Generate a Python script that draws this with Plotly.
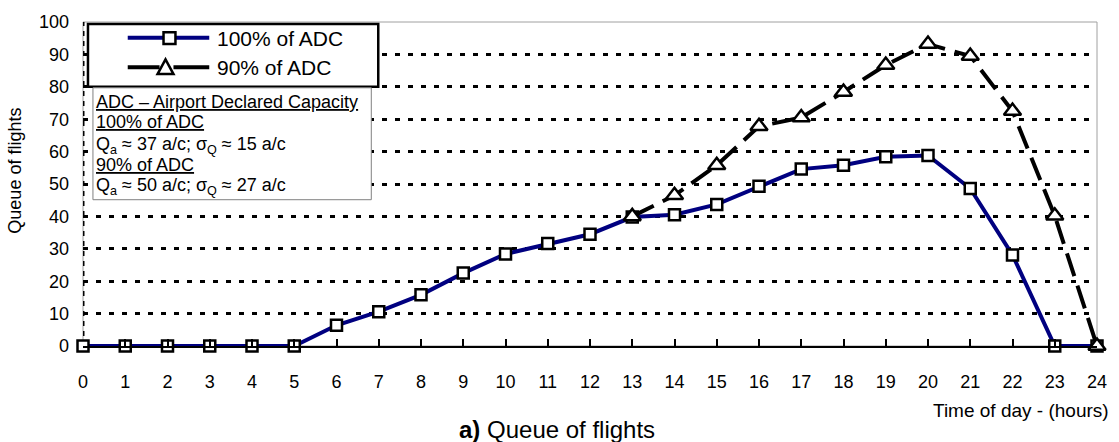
import plotly.graph_objects as go

# Hourly queue length (number of flights waiting) for two capacity scenarios
hours = list(range(25))
queue_100 = [0, 0, 0, 0, 0, 0, 6.4, 10.6, 15.8, 22.5, 28.4, 31.6, 34.5,
             39.8, 40.5, 43.7, 49.3, 54.6, 55.8, 58.4, 58.8, 48.6, 28.1, 0, 0]
hours_90 = list(range(13, 25))
queue_90 = [40.0, 46.5, 55.8, 67.8, 70.5, 78.4, 86.7, 93.2, 89.5, 72.5, 40.2, 0]

y_ticks = list(range(0, 101, 10))
x_ticks = hours

series_names = ["100% of ADC", "90% of ADC"]
info_lines = [
    "<u>ADC – Airport Declared Capacity</u>",
    "<u>100% of ADC</u>",
    "Q<sub>a</sub> ≈ 37 a/c; σ<sub>Q</sub> ≈ 15 a/c",
    "<u>90% of ADC</u>",
    "Q<sub>a</sub> ≈ 50 a/c; σ<sub>Q</sub> ≈ 27 a/c",
]

FONT = "Arial, 'Liberation Sans', sans-serif"
NAVY = "#000080"

W, H = 1119, 442
L, R, T, B = 83, 16, 16, 96
PW, PH = W - L - R, H - T - B


def px(x):
    """pixel x -> paper x"""
    return (x - L) / PW


def py(y):
    """pixel y (from top) -> paper y"""
    return (T + PH - y) / PH


fig = go.Figure()

fig.add_trace(go.Scatter(
    x=hours, y=queue_100, name=series_names[0], mode="lines+markers",
    line=dict(color=NAVY, width=4),
    marker=dict(symbol="square", size=11, color="white",
                line=dict(color="black", width=2.5)),
    cliponaxis=False,
))
fig.add_trace(go.Scatter(
    x=hours_90, y=queue_90, name=series_names[1], mode="lines+markers",
    line=dict(color="black", width=4, dash="24px,10px"),
    marker=dict(symbol="triangle-up", size=15, color="white",
                line=dict(color="black", width=2.5)),
    cliponaxis=False,
))

shapes = [
    # plot-area frame
    dict(type="rect", xref="paper", yref="paper", x0=0, y0=0, x1=1, y1=1,
         line=dict(color="#a0a0a0", width=1), layer="below"),
    # dashed vertical axis
    dict(type="line", xref="x", yref="y", x0=0, x1=0, y0=0, y1=100,
         line=dict(color="black", width=3, dash="5px,5px"), layer="between"),
    # legend frame
    dict(type="rect", xref="paper", yref="paper",
         x0=px(88), x1=px(380), y0=py(82), y1=py(18),
         line=dict(color="black", width=2.5), fillcolor="white", layer="above"),
    # info box frame
    dict(type="rect", xref="paper", yref="paper",
         x0=px(93), x1=px(373), y0=py(197), y1=py(83),
         line=dict(color="#808080", width=1), fillcolor="white", layer="above"),
    # legend sample: 100% of ADC
    dict(type="line", xref="paper", yref="paper",
         x0=px(128), x1=px(210), y0=py(32), y1=py(32),
         line=dict(color=NAVY, width=4), layer="above"),
    dict(type="rect", xref="paper", yref="paper",
         x0=px(164), x1=px(176), y0=py(38.5), y1=py(26.5),
         line=dict(color="black", width=2.5), fillcolor="white", layer="above"),
    # legend sample: 90% of ADC
    dict(type="line", xref="paper", yref="paper",
         x0=px(128), x1=px(160), y0=py(62), y1=py(62),
         line=dict(color="black", width=4), layer="above"),
    dict(type="line", xref="paper", yref="paper",
         x0=px(174), x1=px(210), y0=py(62), y1=py(62),
         line=dict(color="black", width=4), layer="above"),
    dict(type="path", xref="paper", yref="paper",
         path=(f"M {px(158)},{py(69)} L {px(174)},{py(69)} "
               f"L {px(166)},{py(54)} Z"),
         line=dict(color="black", width=2.5), fillcolor="white", layer="above"),
]

annotations = [
    dict(text=series_names[0], xref="paper", yref="paper", x=px(216), y=py(33),
         xanchor="left", yanchor="middle", showarrow=False,
         font=dict(size=21, color="black")),
    dict(text=series_names[1], xref="paper", yref="paper", x=px(216), y=py(62),
         xanchor="left", yanchor="middle", showarrow=False,
         font=dict(size=21, color="black")),
    dict(text="Queue of flights", xref="paper", yref="paper", x=px(15), y=py(167),
         xanchor="center", yanchor="middle", textangle=-90, showarrow=False,
         font=dict(size=18, color="black")),
    dict(text="Time of day - (hours)", xref="paper", yref="paper", x=px(1117), y=py(412),
         xanchor="right", yanchor="middle", showarrow=False,
         font=dict(size=19, color="black")),
    dict(text="<b>a)</b> Queue of flights", xref="paper", yref="paper", x=px(560), y=py(431),
         xanchor="center", yanchor="middle", showarrow=False,
         font=dict(size=24, color="black")),
]

info_y = [97, 118, 142, 162, 184]
for text, yy in zip(info_lines, info_y):
    annotations.append(dict(
        text=text, xref="paper", yref="paper", x=px(94), y=py(yy),
        xanchor="left", yanchor="middle", showarrow=False,
        font=dict(size=18, color="black")))

fig.update_layout(
    width=W, height=H,
    margin=dict(l=L, r=R, t=T, b=B, pad=0),
    paper_bgcolor="white", plot_bgcolor="white",
    font=dict(family=FONT, size=18, color="black"),
    showlegend=False,
    shapes=shapes,
    annotations=annotations,
    xaxis=dict(
        range=[0, 24], tickmode="array", tickvals=x_ticks,
        ticktext=[str(v) for v in x_ticks],
        showgrid=False, zeroline=False,
        showline=True, linecolor="black", linewidth=2,
        ticks="inside", ticklen=7, tickwidth=2, tickcolor="black",
        ticklabelstandoff=18, tickfont=dict(size=18),
    ),
    yaxis=dict(
        range=[0, 100], tickmode="array", tickvals=y_ticks,
        ticktext=[str(v) for v in y_ticks],
        showgrid=True, gridcolor="black", gridwidth=2.5, griddash="5px,8px",
        zeroline=False, showline=False, ticks="",
        ticklabelstandoff=13, tickfont=dict(size=18),
    ),
)

fig.write_html("out.html")
